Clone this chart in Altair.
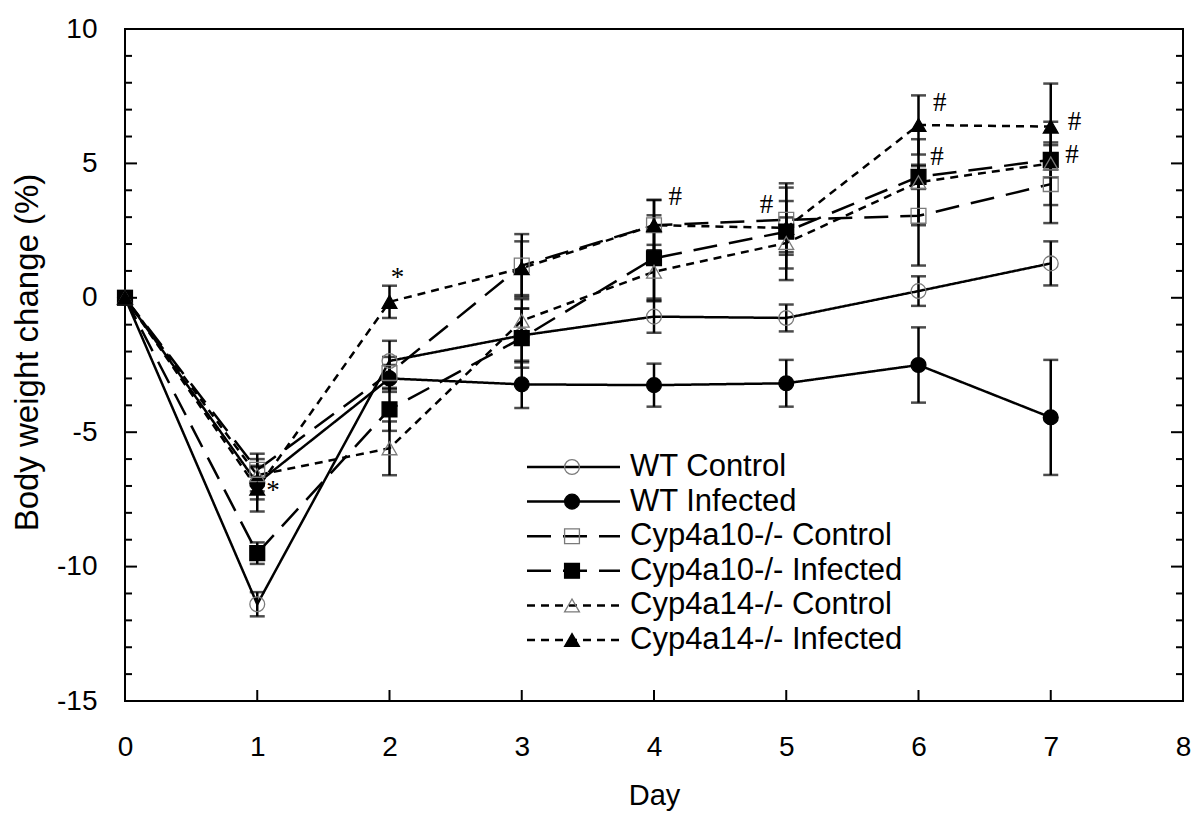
import altair as alt
import pandas as pd

# ---------------- data ----------------
days = [0, 1, 2, 3, 4, 5, 6, 7]
series = ["WT Control", "WT Infected", "Cyp4a10-/- Control",
          "Cyp4a10-/- Infected", "Cyp4a14-/- Control", "Cyp4a14-/- Infected"]

wt_ctrl = [0, -11.4, -2.35, -1.4, -0.7, -0.75, 0.25, 1.28]
wt_ctrl_err = [0, 0.45, 0.75, 1.0, 0.6, 0.5, 0.55, 0.82]
wt_inf = [0, -6.9, -3.0, -3.22, -3.25, -3.18, -2.5, -4.45]
wt_inf_err = [0, 0.6, 0.5, 0.88, 0.8, 0.87, 1.4, 2.14]
c10_ctrl = [0, -6.4, -2.8, 1.2, 2.7, 2.9, 3.05, 4.23]
c10_ctrl_err = [0, 0.6, 0.6, 1.17, 0.94, 1.2, 1.85, 1.45]
c10_inf = [0, -9.5, -4.15, -1.5, 1.47, 2.46, 4.5, 5.13]
c10_inf_err = [0, 0.4, 0.8, 1.1, 1.6, 1.8, 0.45, 0.65]
c14_ctrl = [0, -6.6, -5.6, -0.85, 0.97, 2.04, 4.3, 5.0]
c14_ctrl_err = [0, 0.6, 1.0, 0.8, 1.0, 0.95, 1.6, 1.55]
c14_inf = [0, -7.1, -0.15, 1.1, 2.7, 2.6, 6.43, 6.37]
c14_inf_err = [0, 0.85, 0.6, 1.0, 0.94, 1.0, 1.1, 1.6]

ann_x = [1.12, 2.06, 4.16, 4.85, 6.16, 6.14, 7.18, 7.16]
ann_y = [-7.2, 0.75, 3.75, 3.45, 7.25, 5.25, 6.55, 5.3]
ann_text = ["*", "*", "#", "#", "#", "#", "#", "#"]

x_tick_values = [1, 2, 3, 4, 5, 6, 7]
y_major_ticks = [-10, -5, 0, 5]
y_minor_ticks = [-14, -13, -12, -11, -9, -8, -7, -6, -4, -3, -2, -1,
                 1, 2, 3, 4, 6, 7, 8, 9]

# ---------------- tables ----------------
vals = [wt_ctrl, wt_inf, c10_ctrl, c10_inf, c14_ctrl, c14_inf]
errs = [wt_ctrl_err, wt_inf_err, c10_ctrl_err, c10_inf_err, c14_ctrl_err, c14_inf_err]
rows = []
for s, vv, ee in zip(series, vals, errs):
    for d, v, e in zip(days, vv, ee):
        rows.append({"series": s, "day": d, "value": v, "err": e})
df = pd.DataFrame(rows)
df_err = df[df["err"] > 0].copy()
df_ann = pd.DataFrame({"x": ann_x, "y": ann_y, "t": ann_text})
df_leg = pd.DataFrame({"series": series, "row": list(range(len(series)))})
df_xt = pd.DataFrame({"v": x_tick_values})
df_ymaj = pd.DataFrame({"v": y_major_ticks})
df_ymin = pd.DataFrame({"v": y_minor_ticks})

W, H = 1058, 672
FONT = "Liberation Sans"
GRAY = "#7a7a7a"

xs = alt.Scale(domain=[0, 8], nice=False, zero=False)
ys = alt.Scale(domain=[-15, 10], nice=False, zero=False)

dash_scale = alt.Scale(domain=series, range=[[1, 0], [1, 0], [24, 12], [24, 12], [8, 6], [8, 6]])
shape_scale = alt.Scale(domain=series, range=["circle", "circle", "square", "square",
                                              "triangle-up", "triangle-up"])
fill_scale = alt.Scale(domain=series, range=["transparent", "black", "transparent", "black",
                                             "transparent", "black"])
stroke_scale = alt.Scale(domain=series, range=[GRAY, "black", GRAY, "black", GRAY, "black"])

X = alt.X("day:Q", scale=xs,
          axis=alt.Axis(values=list(range(9)), labelExpr="'' + datum.value", title="Day",
                        ticks=False, tickSize=0, domain=False, grid=False, labelFlush=False,
                        labelPadding=32, labelFontSize=28, labelFont=FONT, labelColor="black",
                        titleFont=FONT, titleFontSize=29, titleFontWeight="normal", titleColor="black",
                        titleX=529, titleY=103, titleBaseline="alphabetic"))
Y = alt.Y("value:Q", scale=ys,
          axis=alt.Axis(values=[-15, -10, -5, 0, 5, 10], labelExpr="'' + datum.value",
                        title="Body weight change (%)",
                        ticks=False, tickSize=0, domain=False, grid=False, labelFlush=False,
                        labelPadding=28, labelFontSize=28, labelFont=FONT, labelColor="black",
                        titleFont=FONT, titleFontSize=33, titleFontWeight="normal", titleColor="black",
                        titleX=-98, titleY=323, titleBaseline="middle", titleAngle=270))

base = alt.Chart(df)

err_rule = alt.Chart(df_err).mark_rule(color="black", strokeWidth=2.5).transform_calculate(
    lo="datum.value - datum.err", hi="datum.value + datum.err"
).encode(x=alt.X("day:Q", scale=xs), y=alt.Y("lo:Q", scale=ys), y2="hi:Q")
cap_lo = alt.Chart(df_err).mark_tick(color="black", thickness=2.5, size=15, orient="horizontal").transform_calculate(
    lo="datum.value - datum.err"
).encode(x=alt.X("day:Q", scale=xs), y=alt.Y("lo:Q", scale=ys))
cap_hi = alt.Chart(df_err).mark_tick(color="black", thickness=2.5, size=15, orient="horizontal").transform_calculate(
    hi="datum.value + datum.err"
).encode(x=alt.X("day:Q", scale=xs), y=alt.Y("hi:Q", scale=ys))

lines = base.mark_line(color="black", strokeWidth=2.5).encode(
    x=X, y=Y,
    strokeDash=alt.StrokeDash("series:N", scale=dash_scale, legend=None),
    order="day:Q",
)
points = base.mark_point(filled=True, size=220, strokeWidth=1.3, opacity=1).encode(
    x=alt.X("day:Q", scale=xs), y=alt.Y("value:Q", scale=ys),
    shape=alt.Shape("series:N", scale=shape_scale, legend=None),
    fill=alt.Fill("series:N", scale=fill_scale, legend=None),
    stroke=alt.Stroke("series:N", scale=stroke_scale, legend=None),
)

ann = alt.Chart(df_ann).mark_text(font="Liberation Serif", fontSize=27, color="black",
                                  align="center", baseline="middle").encode(
    x=alt.X("x:Q", scale=xs), y=alt.Y("y:Q", scale=ys), text="t:N")

# inward axis ticks
xt = alt.Chart(df_xt).mark_rule(color="black", strokeWidth=2).encode(
    x=alt.X("v:Q", scale=xs), y=alt.value(H), y2=alt.value(H - 11))
yl_maj = alt.Chart(df_ymaj).mark_rule(color="black", strokeWidth=2).encode(
    y=alt.Y("v:Q", scale=ys), x=alt.value(0), x2=alt.value(12))
yl_min = alt.Chart(df_ymin).mark_rule(color="black", strokeWidth=2).encode(
    y=alt.Y("v:Q", scale=ys), x=alt.value(0), x2=alt.value(7))
yr_maj = alt.Chart(df_ymaj).mark_rule(color="black", strokeWidth=2).encode(
    y=alt.Y("v:Q", scale=ys), x=alt.value(W - 12), x2=alt.value(W))
yr_min = alt.Chart(df_ymin).mark_rule(color="black", strokeWidth=2).encode(
    y=alt.Y("v:Q", scale=ys), x=alt.value(W - 7), x2=alt.value(W))

# legend
leg_base = alt.Chart(df_leg).transform_calculate(ypx="438 + 34.6 * datum.row")
leg_line = leg_base.mark_rule(color="black", strokeWidth=2.5).encode(
    x=alt.value(402), x2=alt.value(495),
    y=alt.Y("ypx:Q", scale=None, axis=None),
    strokeDash=alt.StrokeDash("series:N", scale=dash_scale, legend=None))
leg_pt = leg_base.mark_point(filled=True, size=220, strokeWidth=1.3, opacity=1).encode(
    x=alt.value(447),
    y=alt.Y("ypx:Q", scale=None, axis=None),
    shape=alt.Shape("series:N", scale=shape_scale, legend=None),
    fill=alt.Fill("series:N", scale=fill_scale, legend=None),
    stroke=alt.Stroke("series:N", scale=stroke_scale, legend=None))
leg_txt = leg_base.mark_text(font=FONT, fontSize=31, color="black", align="left",
                             baseline="middle").encode(
    x=alt.value(505), y=alt.Y("ypx:Q", scale=None, axis=None), text="series:N")

chart = alt.layer(
    lines, err_rule, cap_lo, cap_hi, points, ann,
    xt, yl_maj, yl_min, yr_maj, yr_min,
    leg_line, leg_pt, leg_txt,
).properties(
    width=W, height=H,
    background="white",
    autosize=alt.AutoSizeParams(type="none"),
    padding={"left": 117, "top": 21, "right": 12, "bottom": 110},
).configure_view(stroke="black", strokeWidth=2)

chart.save("out.html", embed_options={"renderer": "svg", "actions": False})
